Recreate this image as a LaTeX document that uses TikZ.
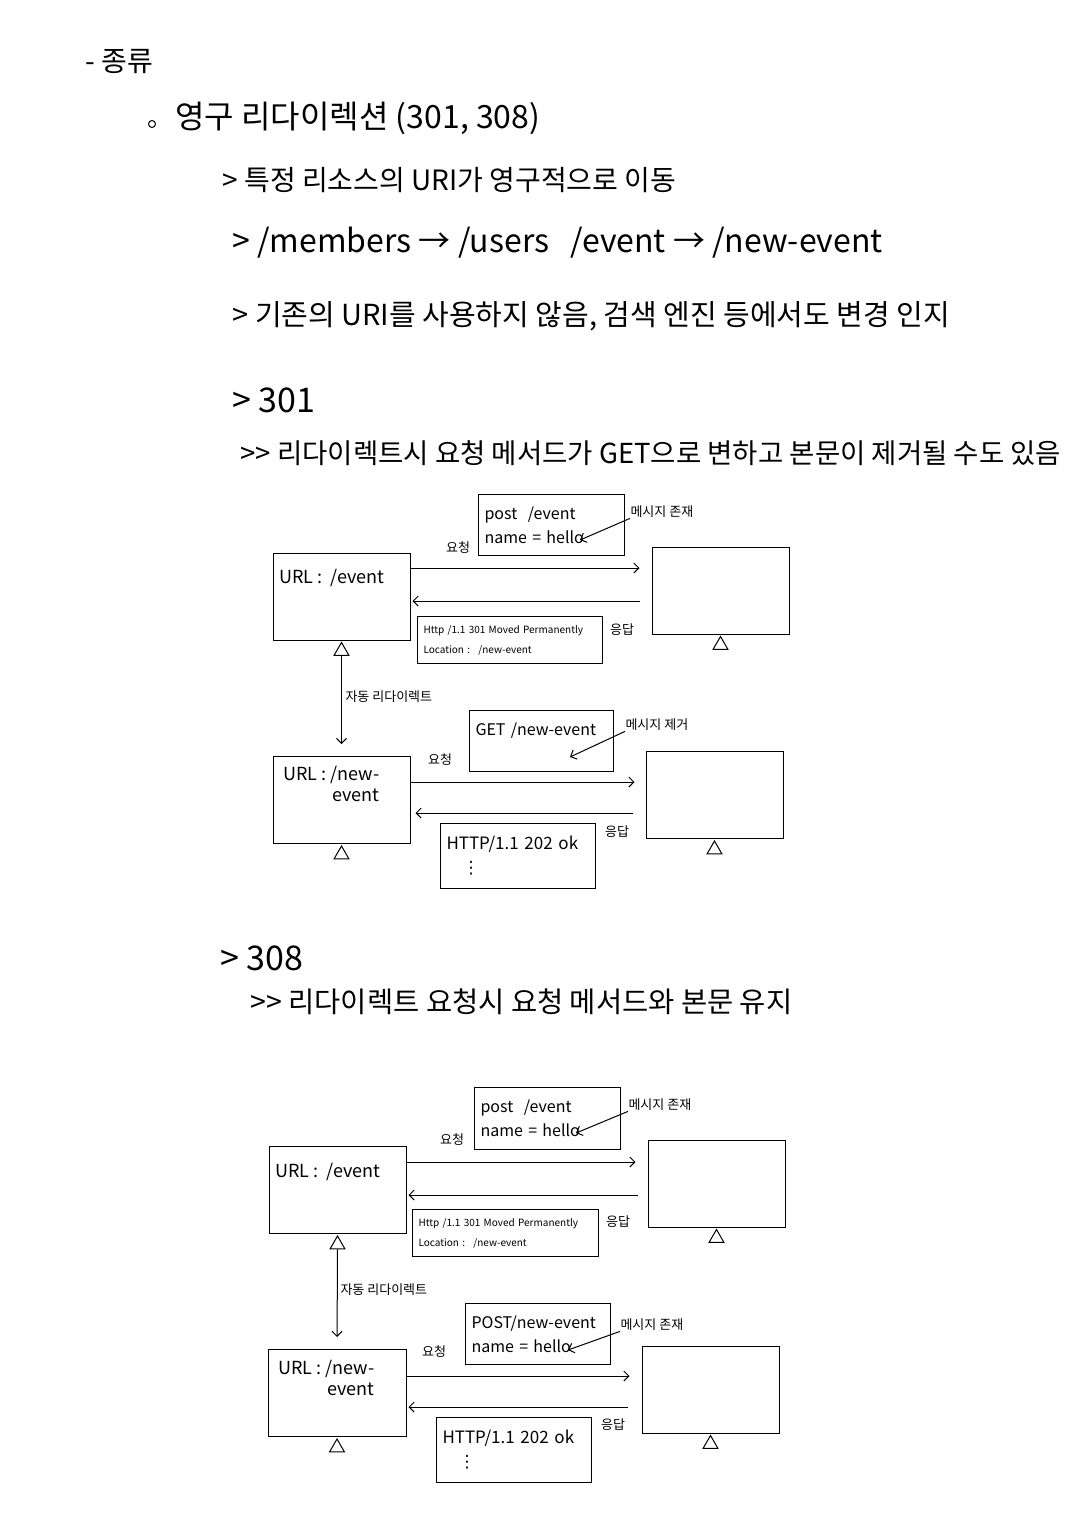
\documentclass[tikz,border=0pt]{standalone}
\usepackage{fontspec}
\setmainfont{Noto Sans CJK KR}
\newfontfamily\dejavu{DejaVu Sans}
\usetikzlibrary{positioning,shapes.geometric,arrows.meta}

\begin{document}
\begin{tikzpicture}[x=1pt,y=-1pt,line width=1pt,>={Straight Barb[length=5pt]},
  pcbox/.style={draw, minimum width=137pt, minimum height=87pt, inner sep=0pt},
  tri/.style={draw, regular polygon, regular polygon sides=3, minimum size=17pt, inner sep=0pt},
  msgbox/.style={draw, anchor=north west, align=left, inner xsep=6pt, inner ysep=3pt, font=\fontsize{16}{24}\selectfont},
  resbox/.style={draw, anchor=north west, align=left, inner xsep=6pt, inner ysep=3pt},
  note/.style={anchor=west, inner sep=0pt, font=\fontsize{26}{30}\selectfont},
  urltxt/.style={inner sep=0pt, font=\fontsize{18}{21}\selectfont},
  tag/.style={inner sep=0pt, font=\fontsize{13}{15}\selectfont}]
\useasboundingbox[fill=white] (0,0) rectangle (1080,1526);

% notes
\node[note, font=\fontsize{28}{32}\selectfont] (t0) at (85,62) {- 종류};
\node[circle, draw, inner sep=0pt, minimum size=7pt] (bul) at (152,124) {};
\node[note, font=\fontsize{32}{36}\selectfont] (t1) at (175,118) {영구 리다이렉션 (301, 308)};
\node[note, font=\fontsize{28}{32}\selectfont] (t2) at (222,180) {> 특정 리소스의 URI가 영구적으로 이동};
\node[note, font=\fontsize{32}{36}\selectfont] (t3) at (232,243) {> /members → /users \ \ /event → /new-event};
\node[note, font=\fontsize{29}{34}\selectfont] (t4) at (232,316) {> 기존의 URI를 사용하지 않음, 검색 엔진 등에서도 변경 인지};
\node[note, font=\fontsize{34}{40}\selectfont] (t5) at (232,400) {> 301};
\node[note, font=\fontsize{27.5}{32}\selectfont] (t6) at (240,453) {>{}> 리다이렉트시 요청 메서드가 GET으로 변하고 본문이 제거될 수도 있음};
\node[note, font=\fontsize{34}{40}\selectfont] (t7) at (220,958) {> 308};
\node[note, font=\fontsize{28.5}{32}\selectfont] (t8) at (250,1002) {>{}> 리다이렉트 요청시 요청 메서드와 본문 유지};

% 301
\node[pcbox] (cliA1) at (341.5,596.5) {};
\node[tri, below=1pt of cliA1] (triA1) {};
\node[urltxt, anchor=west] (urlA1) at (279,578) {URL : \ /event};
\node[pcbox] (srvA1) at (720.5,590.5) {};
\node[tri, below=1pt of srvA1] (tsrA1) {};
\node[msgbox, text width=134pt, minimum height=61pt] (msgA1) at (478,494) {post \ /event\\name = hello};
\node[tag] (reqA1) at (458,548) {요청};
\draw[->, shorten >=12pt] ([yshift=28.5pt]cliA1.east) -- ([yshift=28.5pt]cliA1.east -| srvA1.west);
\draw[->, shorten <=12pt, shorten >=2pt] ([yshift=-4.5pt]cliA1.east -| srvA1.west) -- ([yshift=-4.5pt]cliA1.east);
\node[resbox, text width=173pt, minimum height=47pt, font=\fontsize{10}{20}\selectfont] (resA1) at (417,616) {Http /1.1 301 Moved Permanently\\Location : \ /new-event};
\node[tag] (resA1t) at (622,630) {응답};
\node[tag, anchor=west] (annA1) at (630,512) {메시지 존재};
\coordinate (helA1) at (580,540);
\draw[->] (annA1.south west) -- (helA1);

\node[pcbox] (cliA2) at (341.5,800) {};
\node[tri, below=1pt of cliA2] (triA2) {};
\node[urltxt, anchor=north west, align=right] (urlA2) at (283,766) {URL : /new-\\event};
\draw[->, shorten >=12pt] (triA1.south) -- (cliA2.north);
\node[tag, anchor=west] (redA) at (345,697) {자동 리다이렉트};
\node[pcbox] (srvA2) at (714.5,795) {};
\node[tri, below=1pt of srvA2] (tsrA2) {};
\node[msgbox, text width=132pt, minimum height=61pt] (msgA2) at (469,710) {GET /new-event\\\mbox{}};
\node[tag] (reqA2) at (440,760) {요청};
\draw[->, shorten >=11pt] ([yshift=18pt]cliA2.east) -- ([yshift=18pt]cliA2.east -| srvA2.west);
\draw[->, shorten <=13pt, shorten >=5pt] ([yshift=-13pt]cliA2.east -| srvA2.west) -- ([yshift=-13pt]cliA2.east);
\node[resbox, text width=143pt, minimum height=65pt, font=\fontsize{17}{24}\selectfont] (resA2) at (440,823) {HTTP/1.1 202 ok\\\hspace{16pt}{\dejavu ⋮}};
\node[tag] (resA2t) at (617,832) {응답};
\node[tag, anchor=west] (annA2) at (625,725) {메시지 제거};
\coordinate (helA2) at (570,757);
\draw[->] (annA2.south west) -- (helA2);

% 308
\node[pcbox] (cliB1) at (337.5,1190) {};
\node[tri, below=1pt of cliB1] (triB1) {};
\node[urltxt, anchor=west] (urlB1) at (275,1172) {URL : \ /event};
\node[pcbox] (srvB1) at (716.5,1183.5) {};
\node[tri, below=1pt of srvB1] (tsrB1) {};
\node[msgbox, text width=134pt, minimum height=62pt] (msgB1) at (474,1087) {post \ /event\\name = hello};
\node[tag] (reqB1) at (452,1140) {요청};
\draw[->, shorten >=12pt] ([yshift=28pt]cliB1.east) -- ([yshift=28pt]cliB1.east -| srvB1.west);
\draw[->, shorten <=10pt, shorten >=2pt] ([yshift=-5pt]cliB1.east -| srvB1.west) -- ([yshift=-5pt]cliB1.east);
\node[resbox, text width=174pt, minimum height=47pt, font=\fontsize{10}{20}\selectfont] (resB1) at (412,1209) {Http /1.1 301 Moved Permanently\\Location : \ /new-event};
\node[tag] (resB1t) at (618,1222) {응답};
\node[tag, anchor=west] (annB1) at (628,1105) {메시지 존재};
\coordinate (helB1) at (576,1133);
\draw[->] (annB1.south west) -- (helB1);

\node[pcbox, minimum width=138pt] (cliB2) at (337,1393) {};
\node[tri, below=1pt of cliB2] (triB2) {};
\node[urltxt, anchor=north west, align=right] (urlB2) at (278,1360) {URL : /new-\\event};
\draw[->, shorten >=12pt] (triB1.south) -- (cliB2.north);
\node[tag, anchor=west] (redB) at (340,1290) {자동 리다이렉트};
\node[pcbox] (srvB2) at (710.5,1389.5) {};
\node[tri, below=1pt of srvB2] (tsrB2) {};
\node[msgbox, text width=133pt, minimum height=61pt] (msgB2) at (465,1303) {POST/new-event\\name = hello};
\node[tag] (reqB2) at (434,1352) {요청};
\draw[->, shorten >=12pt] ([yshift=17pt]cliB2.east) -- ([yshift=17pt]cliB2.east -| srvB2.west);
\draw[->, shorten <=14pt, shorten >=2pt] ([yshift=-14pt]cliB2.east -| srvB2.west) -- ([yshift=-14pt]cliB2.east);
\node[resbox, text width=143pt, minimum height=65pt, font=\fontsize{17}{24}\selectfont] (resB2) at (436,1417) {HTTP/1.1 202 ok\\\hspace{16pt}{\dejavu ⋮}};
\node[tag] (resB2t) at (613,1425) {응답};
\node[tag, anchor=west] (annB2) at (620,1325) {메시지 존재};
\coordinate (helB2) at (568,1350);
\draw[->] (annB2.south west) -- (helB2);
\end{tikzpicture}
\end{document}
